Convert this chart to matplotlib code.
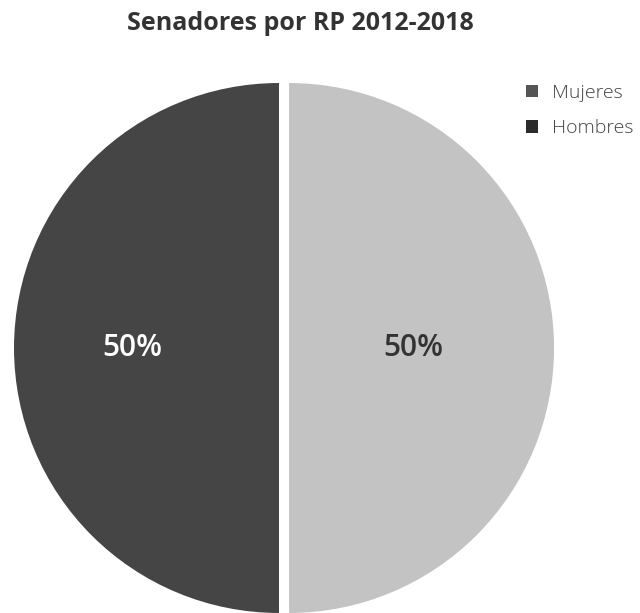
import matplotlib
matplotlib.use("Agg")
import matplotlib.pyplot as plt
from matplotlib.patches import Patch

plt.rcParams['font.family'] = ['Open Sans', 'DejaVu Sans']

title = "Senadores por RP 2012-2018"
categories = ["Mujeres", "Hombres"]
values = [50, 50]
slice_colors = ["#c3c3c3", "#454545"]
legend_colors = ["#555555", "#2b2b2b"]
label_colors = ["#333333", "#ffffff"]
label_radius = [0.47, 0.55]

fig = plt.figure(figsize=(6.4, 6.13), dpi=100)
ax = fig.add_axes([-0.0117, -0.0432, 0.911, 0.951])

wedges, texts, autotexts = ax.pie(
    values, colors=slice_colors, startangle=90, counterclock=False,
    explode=[0.019, 0.019], radius=1.0, autopct="%d%%", pctdistance=0.5,
    wedgeprops=dict(linewidth=0), frame=True)
ax.set_xlim(-1.1, 1.1)
ax.set_ylim(-1.1, 1.1)
ax.axis("off")
for t, c, r in zip(autotexts, label_colors, label_radius):
    x, y = t.get_position()
    t.set_position((x * r / 0.5, y))
    t.set_color(c)
    t.set_fontsize(21.5)
    t.set_fontweight("semibold")

fig.text(0.469, 0.962, title, ha="center", va="center", fontsize=18,
         fontweight="bold", color="#333333")

handles = [Patch(facecolor=c, edgecolor="none") for c in legend_colors]
fig.legend(handles, categories, loc="upper left", bbox_to_anchor=(0.809, 0.876),
           frameon=False, handlelength=0.62, handleheight=0.62,
           handletextpad=0.75, labelspacing=0.9, borderaxespad=0,
           labelcolor="#444444", prop=dict(weight="light", size=14))

fig.savefig("out.png", dpi=100)
